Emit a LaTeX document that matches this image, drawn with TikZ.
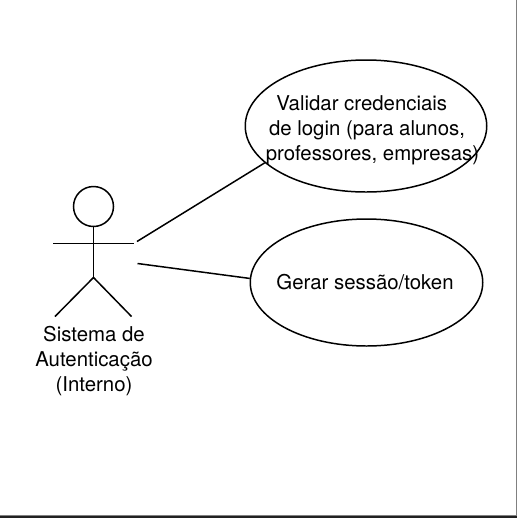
\documentclass[tikz,border=0pt]{standalone}
\usepackage{fontspec}
\setmainfont{TeX Gyre Heros}
\usetikzlibrary{shapes.geometric, positioning}
\tikzset{
	usecase/.style={draw, ellipse, inner sep=0pt},
	ator/.style={draw, circle, inner sep=0pt, minimum size=0.8cm},
	rotulo/.style={inner sep=0pt, align=center, font=\fontsize{11.6}{14.2}\selectfont}
}
\begin{document}
\begin{tikzpicture}[line width=0.85pt]
	\useasboundingbox (0,0) rectangle (10.34,-10.36);
	\fill[white] (0,0) rectangle (10.34,-10.36);
	\fill[gray] (10.32,0) rectangle (10.34,-10.30);
	\fill[gray] (0,-10.30) rectangle (10.34,-10.32);
	\fill[black!87] (0,-10.32) rectangle (10.34,-10.36);

	\node[ator] (cabeca) at (1.87,-4.13) {};
	\coordinate (quadril) at (1.87,-5.55);
	\coordinate (bracoE) at (1.06,-4.87);
	\coordinate (bracoD) at (2.68,-4.87);
	\coordinate (peE) at (1.10,-6.33);
	\coordinate (peD) at (2.63,-6.33);
	\coordinate (assocA) at (2.74,-4.83);
	\coordinate (assocB) at (2.75,-5.27);
	\draw (cabeca.south) -- (quadril); \draw (bracoE) -- (bracoD);
	\draw (peE) -- (quadril) -- (peD);
	\node[rotulo] (sistema) at (1.88,-7.22) {Sistema de\\Autenticação\\(Interno)};

	\node[usecase, minimum width=4.83cm, minimum height=2.64cm] (validar) at (7.32,-2.52) {};
	\node[usecase, minimum width=4.65cm, minimum height=2.54cm] (gerar) at (7.33,-5.65) {};
	\node[rotulo] (validartxt) at (7.34,-2.60) {Validar credenciais\hspace{6pt}\null\\de login (para alunos,\\\hspace*{6.2pt}professores, empresas)};
	\node[rotulo] (gerartxt) at (7.30,-5.65) {Gerar sessão/token};

	\draw (assocA) -- (validar.200);
	\draw (assocB) -- (gerar.178);
\end{tikzpicture}
\end{document}
